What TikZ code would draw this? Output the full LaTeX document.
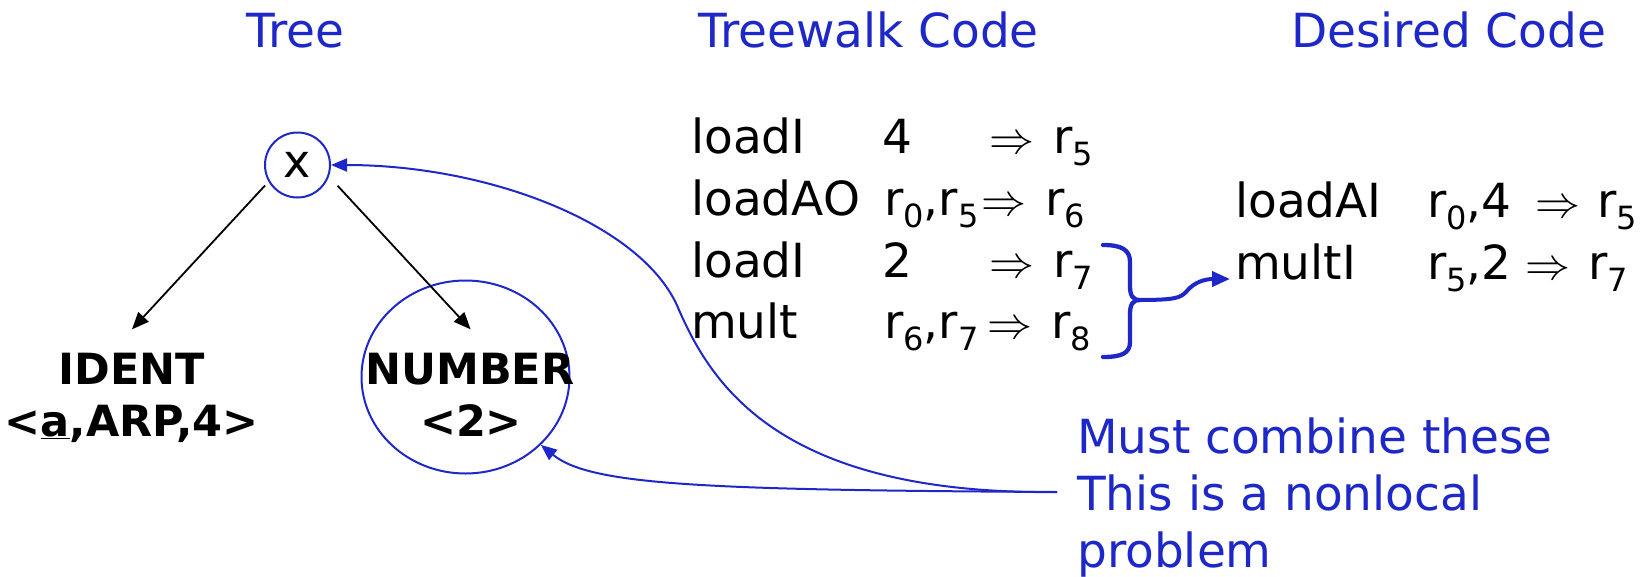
\documentclass[tikz,border=0pt]{standalone}
\usepackage{graphicx}
\usepackage{fontspec}
\setmainfont{DejaVu Sans}
\usetikzlibrary{arrows.meta,shapes.geometric,calc}
\definecolor{pblue}{RGB}{30,40,200}
\newcommand{\rg}[1]{r\raisebox{-12pt}{\fontsize{32}{32}\selectfont #1}}
\newcommand{\impl}{\scalebox{4.5}{\normalsize$\Rightarrow$}}
\begin{document}
\begin{tikzpicture}[x=1pt,y=-1pt,
  ttl/.style={anchor=base west,inner sep=0pt,font=\fontsize{47}{56}\selectfont,text=pblue},
  code/.style={anchor=base west,inner sep=0pt,font=\fontsize{47}{56}\selectfont},
  note/.style={anchor=base west,inner sep=0pt,font=\fontsize{47}{56}\selectfont,text=pblue},
  leaf/.style={anchor=base,inner sep=0pt,font=\fontsize{43}{50}\selectfont\bfseries},
  tarrow/.style={draw=black,line width=1.8pt,-{Triangle[length=17pt,width=14pt]}},
  barrow/.style={draw=pblue,line width=2pt,-{Triangle[length=16pt,width=13pt]}}]
\useasboundingbox (0,0) rectangle (1647,576);
% titles
\node[ttl] (t1) at (246,47) {Tree};
\node[ttl] (t2) at (698,47) {Treewalk Code};
\node[ttl] (t3) at (1291,47) {Desired Code};
% treewalk code
\node[code] (a1) at (691,153) {loadI};
\node[code] (b1) at (882,153) {4};
\node[code] (c1) at (989,153) {\impl};
\node[code] (d1) at (1053,153) {\rg{5}};
\node[code] (a2) at (691,215) {loadAO};
\node[code] (b2) at (884,215) {\rg{0},\rg{5}};
\node[code] (c2) at (981.5,215) {\impl};
\node[code] (d2) at (1045,215) {\rg{6}};
\node[code] (a3) at (691,277) {loadI};
\node[code] (b3) at (882,277) {2};
\node[code] (c3) at (989,277) {\impl};
\node[code] (d3) at (1053,277) {\rg{7}};
\node[code] (a4) at (691,338) {mult};
\node[code] (b4) at (884,338) {\rg{6},\rg{7}};
\node[code] (c4) at (987.5,338) {\impl};
\node[code] (d4) at (1051,338) {\rg{8}};
% desired code
\node[code] (e1) at (1235,217) {loadAI};
\node[code] (f1) at (1427,217) {\rg{0},4};
\node[code] (g1) at (1535.5,217) {\impl};
\node[code] (h1) at (1597,217) {\rg{5}};
\node[code] (e2) at (1235,279) {multI};
\node[code] (f2) at (1427,279) {\rg{5},2};
\node[code] (g2) at (1525.5,279) {\impl};
\node[code] (h2) at (1588,279) {\rg{7}};
% note
\node[note] (m1) at (1077,453) {Must combine these};
\node[note] (m2) at (1077,510) {This is a nonlocal};
\node[note] (m3) at (1077,567) {problem};
% tree
\node[circle,draw=pblue,line width=2pt,minimum size=65pt,inner sep=0pt,font=\fontsize{46}{46}\selectfont] (x) at (297.5,165) {x};
\node[leaf] (identA) at (132,384) {IDENT};
\node[leaf] (identB) at (131.5,436) {<\underline{a},ARP,4>};
\node[ellipse,draw=pblue,line width=2pt,minimum width=208pt,minimum height=193pt,inner sep=0pt] (numE) at (465.5,377) {};
\node[leaf] (numA) at (470,384) {NUMBER};
\node[leaf] (numB) at (471,436) {<2>};
\draw[tarrow,shorten <=5pt,shorten >=31.5pt] (x.210) -- ($(identA.north)+(-21.4,0)$);
\draw[tarrow,shorten <=12.7pt,shorten >=31.5pt] (x.-20) -- ($(numA.north)+(22,0)$);
% nonlocal connectors
\coordinate (cs) at (1057,492);
\draw[barrow] (cs) .. controls (780,495) and (712,385) .. (679,310) .. controls (645,225) and (490,165) .. (x.east);
\draw[barrow] (cs) .. controls (700,490) and (590,485) .. (numE.-42);
% brace
\draw[pblue,line width=4.3pt,line join=round,line cap=round] (1103,245) .. controls (1122,245) and (1130,250) .. (1130,262) -- (1130,286) .. controls (1130,296) and (1133,300) .. (1140,300) .. controls (1133,300) and (1130,304) .. (1130,314) -- (1130,342) .. controls (1130,353) and (1122,357) .. (1103,357);
\coordinate (bt) at (1138,300);
\draw[pblue,line width=4pt,-{Triangle[length=18pt,width=15pt]},shorten >=5pt] (bt) .. controls (1175,300) and (1180,298) .. (1186,292) .. controls (1194,282) and (1205,279) .. (e2.base west);
\end{tikzpicture}
\end{document}
